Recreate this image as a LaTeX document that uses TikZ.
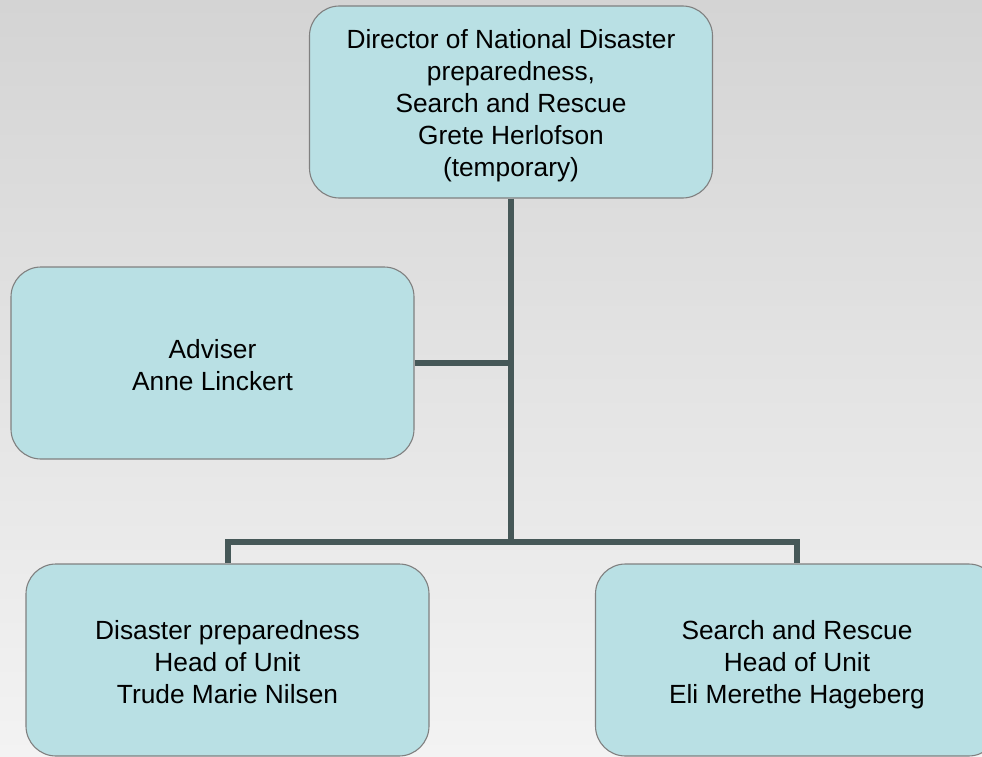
\documentclass[tikz,border=0pt]{standalone}
\usepackage{fontspec}
\setmainfont{Liberation Sans}
\definecolor{boxfill}{RGB}{185,224,228}
\definecolor{boxline}{RGB}{128,128,128}
\definecolor{connline}{RGB}{70,88,88}
\definecolor{bgtop}{RGB}{212,212,212}
\definecolor{bgbot}{RGB}{243,243,243}
\newcommand{\boxlines}[2]{\raisebox{#1}[0pt][0pt]{\begin{tabular}[t]{@{}c@{}}#2\end{tabular}}}
\tikzset{
  unitbox/.style={draw=boxline, line width=1.1pt, fill=boxfill, rounded corners=30pt,
    minimum width=403pt, minimum height=192pt, inner sep=0pt,
    font=\fontsize{26.3}{32}\selectfont, text=black},
  conn/.style={draw=connline, line width=6pt, line join=miter}
}
\begin{document}
\begin{tikzpicture}[x=1pt,y=-1pt]
\useasboundingbox (0,0) rectangle (982,757);
\clip (0,0) rectangle (982,757);
\shade[top color=bgtop, bottom color=bgbot] (0,0) rectangle (982,757);
\coordinate (j) at (511,541.5);
\node[unitbox] (top) at (511,102) {\boxlines{53pt}{Director of National Disaster\\preparedness,\\Search and Rescue\\Grete Herlofson\\(temporary)}};
\node[unitbox] (adv) at (212.5,363) {\boxlines{5pt}{Adviser\\Anne Linckert}};
\node[unitbox] (bl) at (227.5,660) {\boxlines{21pt}{Disaster preparedness\\Head of Unit\\Trude Marie Nilsen}};
\node[unitbox] (br) at (797,660) {\boxlines{21pt}{Search and Rescue\\Head of Unit\\Eli Merethe Hageberg}};
\draw[conn] (adv.east) -- (adv.east -| j);
\draw[conn] (bl.north) |- (j) -| (br.north);
\draw[conn] (top.south) -- (j);
\end{tikzpicture}
\end{document}
